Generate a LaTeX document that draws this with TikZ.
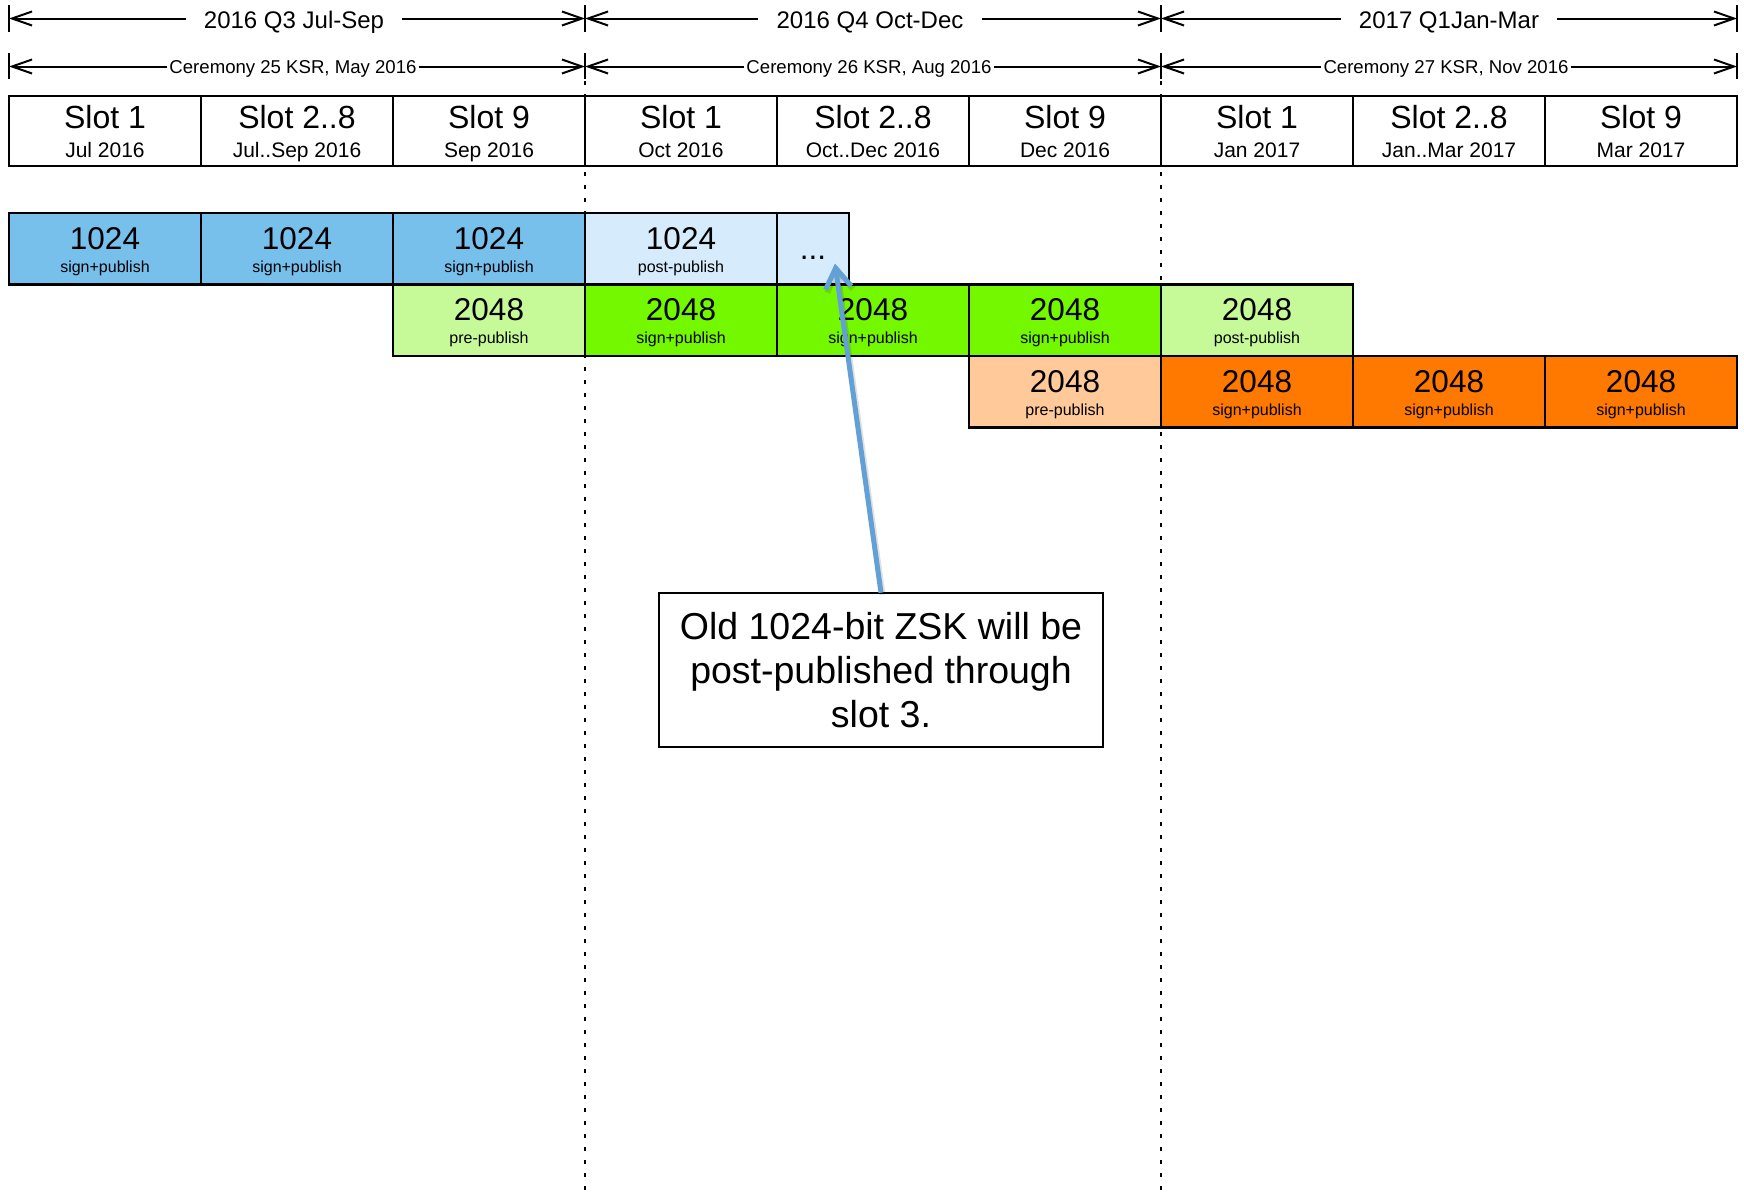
\documentclass[tikz,border=0pt]{standalone}
\usepackage{fontspec}
\setmainfont{Liberation Sans}
\usetikzlibrary{arrows.meta,calc}
\definecolor{kblue}{RGB}{120,192,236}
\definecolor{kpale}{RGB}{214,236,252}
\definecolor{kltgreen}{RGB}{198,250,152}
\definecolor{kgreen}{RGB}{115,248,0}
\definecolor{kpeach}{RGB}{255,201,153}
\definecolor{korange}{RGB}{255,121,0}
\definecolor{karrow}{RGB}{98,160,214}
\tikzset{
  cellbase/.style={draw=black, line width=2.5pt, inner sep=0pt, outer sep=0pt, anchor=north west},
  slotbox/.style={cellbase, line width=2pt, minimum width=192pt, minimum height=70pt},
  keybox/.style={cellbase, minimum width=192pt, minimum height=71.5pt},
  slottitle/.style={anchor=base, inner sep=0pt, font=\fontsize{32}{38}\selectfont},
  slotdate/.style={anchor=base, inner sep=0pt, font=\fontsize{21}{25}\selectfont},
  numtxt/.style={anchor=base, inner sep=0pt, font=\fontsize{31.5}{36}\selectfont},
  subtxt/.style={anchor=base, inner sep=0pt, font=\fontsize{16}{19}\selectfont},
  qlabel/.style={anchor=base, inner xsep=18pt, inner ysep=0pt, font=\fontsize{24}{28}\selectfont},
  clabel/.style={anchor=base, inner xsep=2pt, inner ysep=0pt, font=\fontsize{18.6}{22}\selectfont},
  endtick/.style={line width=2.5pt},
  spanarrow/.style={line width=2pt, -{Straight Barb[length=20pt,width=14pt]}},
  divider/.style={line width=2.5pt, dash pattern=on 3.5pt off 9.5pt},
  notebox/.style={draw=black, line width=2pt, fill=white, inner sep=0pt, outer sep=0pt, minimum width=444pt, minimum height=154pt, align=center, font=\fontsize{37.5}{44}\selectfont},
  pointer/.style={draw=karrow, line width=5pt, -{Straight Barb[length=20pt,width=26pt]}},
  pointershadow/.style={draw=black, opacity=0.12, line width=6pt, -{Straight Barb[length=20pt,width=26pt]}},
}
\newcommand\slotcell[4]{%
  \node[slotbox] (#1) at (#2,96) {};
  \node[slottitle] (#1t) at ($(#1.north)+(0,32)$) {#3};
  \node[slotdate] (#1d) at ($(#1.north)+(0,61)$) {#4};}
\newcommand\keycell[6]{%
  \node[keybox, fill=#4] (#1) at (#2,#3) {};
  \node[numtxt] (#1n) at ($(#1.north)+(0,36)$) {#5};
  \node[subtxt] (#1s) at ($(#1.north)+(0,59)$) {#6};}
\begin{document}
\begin{tikzpicture}[x=1pt,y=-1pt]
\fill[white] (0,0) rectangle (1744,1191);
\useasboundingbox (0,0) rectangle (1744,1191);

% tick positions
\coordinate (t0) at (9,18.5);
\coordinate (t1) at (585,18.5);
\coordinate (t2) at (1161,18.5);
\coordinate (t3) at (1737,18.5);
\coordinate (c0) at (9,66.5);
\coordinate (c1) at (585,66.5);
\coordinate (c2) at (1161,66.5);
\coordinate (c3) at (1737,66.5);

% dotted dividers
\coordinate (d1top) at (585,81);
\coordinate (d1bot) at (585,1191);
\coordinate (d2top) at (1161,81);
\coordinate (d2bot) at (1161,1191);
\draw[divider] (d1top) -- (d1bot);
\draw[divider] (d2top) -- (d2bot);

% ticks
\foreach \t in {t0,t1,t2,t3} {
  \draw[endtick] ($(\t)+(0,-13.5)$) -- ($(\t)+(0,13.5)$);
}
\foreach \t in {c0,c1,c2,c3} {
  \draw[endtick] ($(\t)+(0,-13.5)$) -- ($(\t)+(0,12.5)$);
}

% quarter spans
\node[qlabel] (q1) at (294,28) {2016 Q3 Jul-Sep};
\node[qlabel] (q2) at (870,28) {2016 Q4 Oct-Dec};
\node[qlabel] (q3) at (1449,28) {2017 Q1Jan-Mar};
\draw[spanarrow] (q1.west |- t0) -- (t0);
\draw[spanarrow] (q1.east |- t1) -- (t1);
\draw[spanarrow] (q2.west |- t1) -- (t1);
\draw[spanarrow] (q2.east |- t2) -- (t2);
\draw[spanarrow] (q3.west |- t2) -- (t2);
\draw[spanarrow] (q3.east |- t3) -- (t3);

% ceremony spans
\node[clabel] (k1) at (293,73) {Ceremony 25 KSR, May 2016};
\node[clabel] (k2) at (869,73) {Ceremony 26 KSR, Aug 2016};
\node[clabel] (k3) at (1446,73) {Ceremony 27 KSR, Nov 2016};
\draw[spanarrow] (k1.west |- c0) -- (c0);
\draw[spanarrow] (k1.east |- c1) -- (c1);
\draw[spanarrow] (k2.west |- c1) -- (c1);
\draw[spanarrow] (k2.east |- c2) -- (c2);
\draw[spanarrow] (k3.west |- c2) -- (c2);
\draw[spanarrow] (k3.east |- c3) -- (c3);

% slot row
\slotcell{s1}{9}{Slot 1}{Jul 2016}
\slotcell{s2}{201}{Slot 2..8}{Jul..Sep 2016}
\slotcell{s3}{393}{Slot 9}{Sep 2016}
\slotcell{s4}{585}{Slot 1}{Oct 2016}
\slotcell{s5}{777}{Slot 2..8}{Oct..Dec 2016}
\slotcell{s6}{969}{Slot 9}{Dec 2016}
\slotcell{s7}{1161}{Slot 1}{Jan 2017}
\slotcell{s8}{1353}{Slot 2..8}{Jan..Mar 2017}
\slotcell{s9}{1545}{Slot 9}{Mar 2017}

% 1024 row
\keycell{a1}{9}{213}{kblue}{1024}{sign+publish}
\keycell{a2}{201}{213}{kblue}{1024}{sign+publish}
\keycell{a3}{393}{213}{kblue}{1024}{sign+publish}
\keycell{a4}{585}{213}{kpale}{1024}{post-publish}
\node[cellbase, fill=kpale, minimum width=72pt, minimum height=71.5pt] (dots) at (777,213) {};
\node[numtxt] (dotst) at ($(dots.north)+(0,46)$) {...};

% 2048 row (first new key)
\keycell{b1}{393}{284.5}{kltgreen}{2048}{pre-publish}
\keycell{b2}{585}{284.5}{kgreen}{2048}{sign+publish}
\keycell{b3}{777}{284.5}{kgreen}{2048}{sign+publish}
\keycell{b4}{969}{284.5}{kgreen}{2048}{sign+publish}
\keycell{b5}{1161}{284.5}{kltgreen}{2048}{post-publish}

% 2048 row (second new key)
\keycell{e1}{969}{356}{kpeach}{2048}{pre-publish}
\keycell{e2}{1161}{356}{korange}{2048}{sign+publish}
\keycell{e3}{1353}{356}{korange}{2048}{sign+publish}
\keycell{e4}{1545}{356}{korange}{2048}{sign+publish}

% callout
\node[notebox] (note) at (881,669.7) {Old 1024-bit ZSK will be\\post-published through\\slot 3.};
\draw[pointershadow] ([xshift=1.5pt,yshift=-2pt]note.north) -- ([xshift=1.5pt,yshift=-2pt]$(dots.south)+(22,-21)$);
\draw[pointer] (note.north) -- ($(dots.south)+(22,-21)$);
\end{tikzpicture}
\end{document}
